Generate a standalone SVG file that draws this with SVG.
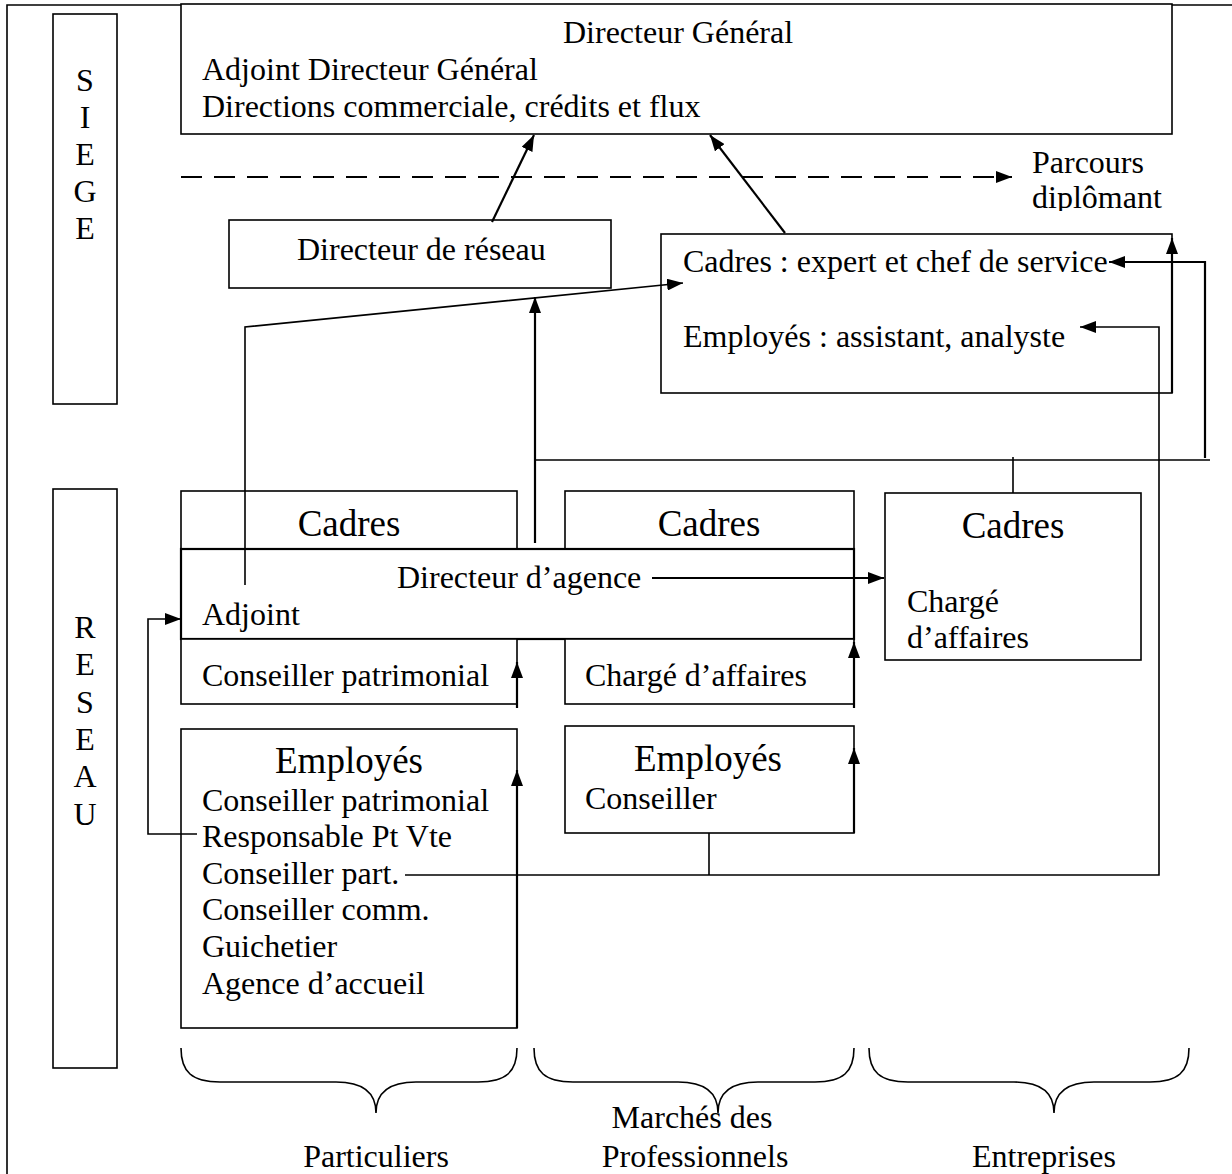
<svg xmlns="http://www.w3.org/2000/svg" width="1232" height="1174" viewBox="0 0 1232 1174">
<style>
text{font-family:"Liberation Serif","Times New Roman",serif;font-size:32px;fill:#000}
.big{font-size:37px}
.mid{text-anchor:middle}
.box{fill:#fff;stroke:#000;stroke-width:1.6}
.ln{fill:none;stroke:#000;stroke-width:1.6}
.ar{fill:none;stroke:#000;stroke-width:2.2}
</style>
<defs>
<marker id="ah" viewBox="0 0 16 12" refX="16" refY="6" markerWidth="16" markerHeight="12" orient="auto" markerUnits="userSpaceOnUse"><path d="M0,0 L16,6 L0,12 z" fill="#000"/></marker>
<clipPath id="clipP"><rect x="1000" y="140" width="232" height="71"/></clipPath>
</defs>
<rect width="1232" height="1174" fill="#fff"/>
<g id="frame"><path class="ln" d="M7 1174 V5 H1232"/></g>

<g id="siege"><rect class="box" x="53" y="14" width="64" height="390"/>
<text class="mid" x="85" y="91">S</text><text class="mid" x="85" y="128">I</text><text class="mid" x="85" y="165">E</text><text class="mid" x="85" y="202">G</text><text class="mid" x="85" y="239">E</text></g>

<g id="reseau"><rect class="box" x="53" y="489" width="64" height="579"/>
<text class="mid" x="85" y="638">R</text><text class="mid" x="85" y="675">E</text><text class="mid" x="85" y="713">S</text><text class="mid" x="85" y="750">E</text><text class="mid" x="85" y="787">A</text><text class="mid" x="85" y="825">U</text></g>

<g id="dg"><rect class="box" x="181" y="4" width="991" height="130"/>
<text x="563" y="43">Directeur Général</text>
<text x="202" y="80">Adjoint Directeur Général</text>
<text x="202" y="117">Directions commerciale, crédits et flux</text></g>

<g id="parcours" clip-path="url(#clipP)"><text x="1032" y="173">Parcours</text><text x="1032" y="208">diplômant</text></g>

<g id="dir-reseau"><rect class="box" x="229" y="220" width="382" height="68"/>
<text x="297" y="260">Directeur de réseau</text></g>

<g id="siege-cadres"><rect class="box" x="661" y="234" width="511" height="159"/>
<text x="683" y="272">Cadres : expert et chef de service</text>
<text x="683" y="347">Employés : assistant, analyste</text></g>

<g id="part-cadres"><rect class="box" x="181" y="491" width="336" height="58"/>
<text class="big mid" x="349" y="536">Cadres</text></g>
<g id="pro-cadres"><rect class="box" x="565" y="491" width="289" height="58"/>
<text class="big mid" x="709" y="536">Cadres</text></g>

<g id="dir-agence"><rect class="box" x="181" y="549" width="673" height="90" style="stroke-width:2.2"/>
<text x="397" y="588">Directeur d’agence</text>
<text x="202" y="625">Adjoint</text></g>

<g id="part-cons"><rect class="box" x="181" y="639" width="336" height="65"/>
<text x="202" y="686">Conseiller patrimonial</text></g>
<g id="pro-charge"><rect class="box" x="565" y="639" width="289" height="65"/>
<text x="585" y="686">Chargé d’affaires</text></g>

<g id="ent-cadres"><rect class="box" x="885" y="493" width="256" height="167"/>
<text class="big mid" x="1013" y="538">Cadres</text>
<text x="907" y="612">Chargé</text><text x="907" y="648">d’affaires</text></g>

<g id="part-emp"><rect class="box" x="181" y="729" width="336" height="299"/>
<text class="big mid" x="349" y="773">Employés</text>
<text x="202" y="811">Conseiller patrimonial</text>
<text x="202" y="847">Responsable Pt Vte</text>
<text x="202" y="884">Conseiller part.</text>
<text x="202" y="920">Conseiller comm.</text>
<text x="202" y="957">Guichetier</text>
<text x="202" y="994">Agence d’accueil</text></g>

<g id="pro-emp"><rect class="box" x="565" y="726" width="289" height="107"/>
<text class="big mid" x="708" y="771">Employés</text>
<text x="585" y="809">Conseiller</text></g>

<g id="connectors">
<path class="ar" d="M181 177 H1012" stroke-dasharray="21 12" marker-end="url(#ah)"/>
<path class="ar" d="M492 222 L534 135" marker-end="url(#ah)"/>
<path class="ar" d="M785 233 L710 135" marker-end="url(#ah)"/>
<path class="ar" d="M535 543 V297" marker-end="url(#ah)"/>
<path class="ln" d="M245 585 V327 L683 283" marker-end="url(#ah)"/>
<path class="ln" d="M535 460 H1210 M1013 457 V493"/>
<path class="ar" d="M1205 458 V262 H1109" marker-end="url(#ah)"/>
<path class="ar" d="M1172 393 V238" marker-end="url(#ah)"/>
<path class="ln" d="M405 875 H1159 V327 H1080" marker-end="url(#ah)"/>
<path class="ln" d="M709 833 V875"/>
<path class="ar" d="M652 578 H884" marker-end="url(#ah)"/>
<path class="ln" d="M197 834 H148 V619 H181" marker-end="url(#ah)"/>
<path class="ar" d="M517 708 V662" marker-end="url(#ah)"/>
<path class="ar" d="M854 708 V642" marker-end="url(#ah)"/>
<path class="ar" d="M517 1028 V770" marker-end="url(#ah)"/>
<path class="ar" d="M854 833 V748" marker-end="url(#ah)"/>
</g>

<g id="braces">
<path class="ln" d="M181 1048 C181 1072 192 1082 220 1082 L336 1082 C362 1082 376 1092 376 1113 C376 1092 390 1082 416 1082 L478 1082 C506 1082 517 1072 517 1048"/>
<path class="ln" d="M534 1048 C534 1072 545 1082 573 1082 L678 1082 C704 1082 718 1092 718 1113 C718 1092 732 1082 758 1082 L815 1082 C843 1082 854 1072 854 1048"/>
<path class="ln" d="M869 1048 C869 1072 880 1082 908 1082 L1014 1082 C1040 1082 1054 1092 1054 1113 C1054 1092 1068 1082 1094 1082 L1150 1082 C1178 1082 1189 1072 1189 1048"/>
</g>
<g id="labels">
<text class="mid" x="376" y="1167">Particuliers</text>
<text class="mid" x="692" y="1128">Marchés des</text>
<text class="mid" x="695" y="1167">Professionnels</text>
<text class="mid" x="1044" y="1167">Entreprises</text>
</g>
</svg>
